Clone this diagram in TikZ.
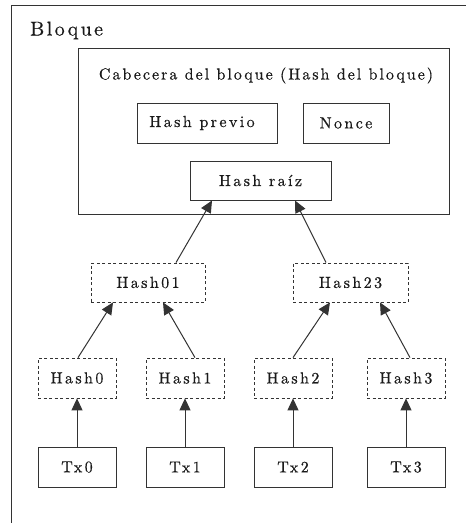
\documentclass[tikz,border=0pt]{standalone}
\usepackage{fontspec}
\usetikzlibrary{arrows.meta}
\newfontfamily\nodefont{lmroman10-regular.otf}[LetterSpace=15,FakeBold=0.5]
\newfontfamily\headfont{lmroman10-regular.otf}[LetterSpace=12.5,FakeBold=0.5]
\newfontfamily\titlefont{lmroman10-regular.otf}[LetterSpace=12,FakeBold=0.4]
\definecolor{ln}{HTML}{333333}
\definecolor{tx}{HTML}{1a1a1a}
\tikzset{
  lbl/.style={font=\nodefont\fontsize{16}{19}\selectfont, text=tx},
  solidbox/.style={draw=ln, line width=1pt, lbl, inner sep=0pt},
  dashbox/.style={draw=ln, line width=0.8pt, dash pattern=on 3pt off 2.5pt, lbl, inner sep=0pt},
  arr/.style={draw=ln, line width=1pt, -{Triangle[length=12pt,width=11pt]}, shorten >=0pt}
}
\begin{document}
\begin{tikzpicture}[x=1pt,y=-1pt]
\useasboundingbox (0,0) rectangle (466,523);
\clip (0,0) rectangle (466,523);
\fill[white] (0,0) rectangle (466,523);
% outer block frame (cut by the picture's edge)
\draw[ln, line width=1pt] (11,540) -- (11,5) -- (480,5);
\node[anchor=base west, inner sep=0pt, text=tx, font=\titlefont\fontsize{20}{24}\selectfont] (bloque) at (30,35.5) {Bloque};
% header
\node[draw=ln, line width=1pt, minimum width=371pt, minimum height=166pt, inner sep=0pt] (hdr) at (263.5,131) {};
\node[anchor=base, inner sep=0pt, text=tx, font=\headfont\fontsize{16}{19}\selectfont] (hdrlbl) at (266,79.5) {Cabecera del bloque (Hash del bloque)};
\node[solidbox, minimum width=140pt, minimum height=40pt] (prev) at (207,123) {\hspace*{-10pt}Hash previo};
\node[solidbox, minimum width=86pt, minimum height=40pt] (nonce) at (346,123) {Nonce};
\node[solidbox, minimum width=141pt, minimum height=39pt] (root) at (260.5,180.5) {Hash raíz};
% intermediate hashes
\node[dashbox, minimum width=114pt, minimum height=39pt] (h01) at (148,282.5) {Hash01};
\node[dashbox, minimum width=115pt, minimum height=39pt] (h23) at (350.5,282.5) {Hash23};
% leaf hashes
\node[dashbox, minimum width=78pt, minimum height=40pt] (h0) at (77,378) {Hash0};
\node[dashbox, minimum width=78pt, minimum height=40pt] (h1) at (185,378) {Hash1};
\node[dashbox, minimum width=78pt, minimum height=40pt] (h2) at (293,378) {Hash2};
\node[dashbox, minimum width=78pt, minimum height=40pt] (h3) at (406,378) {Hash3};
% transactions
\node[solidbox, minimum width=78pt, minimum height=40pt] (t0) at (77,467) {Tx0};
\node[solidbox, minimum width=78pt, minimum height=40pt] (t1) at (185,467) {Tx1};
\node[solidbox, minimum width=78pt, minimum height=40pt] (t2) at (293,467) {Tx2};
\node[solidbox, minimum width=78pt, minimum height=40pt] (t3) at (406,467) {Tx3};
% arrows
\draw[arr] ([xshift=28pt]h01.north) -- ([xshift=-48.5pt]root.south);
\draw[arr] ([xshift=-24.5pt]h23.north) -- ([xshift=34.5pt]root.south);
\draw[arr] ([xshift=1pt]h0.north) -- ([xshift=-35pt]h01.south);
\draw[arr] ([xshift=10pt]h1.north) -- ([xshift=15pt]h01.south);
\draw[arr] (h2.north) -- ([xshift=-20.5pt]h23.south);
\draw[arr] ([xshift=4pt]h3.north) -- ([xshift=29.5pt]h23.south);
\draw[arr] (t0) -- (h0);
\draw[arr] (t1) -- (h1);
\draw[arr] (t2) -- (h2);
\draw[arr] (t3) -- (h3);
\end{tikzpicture}
\end{document}
